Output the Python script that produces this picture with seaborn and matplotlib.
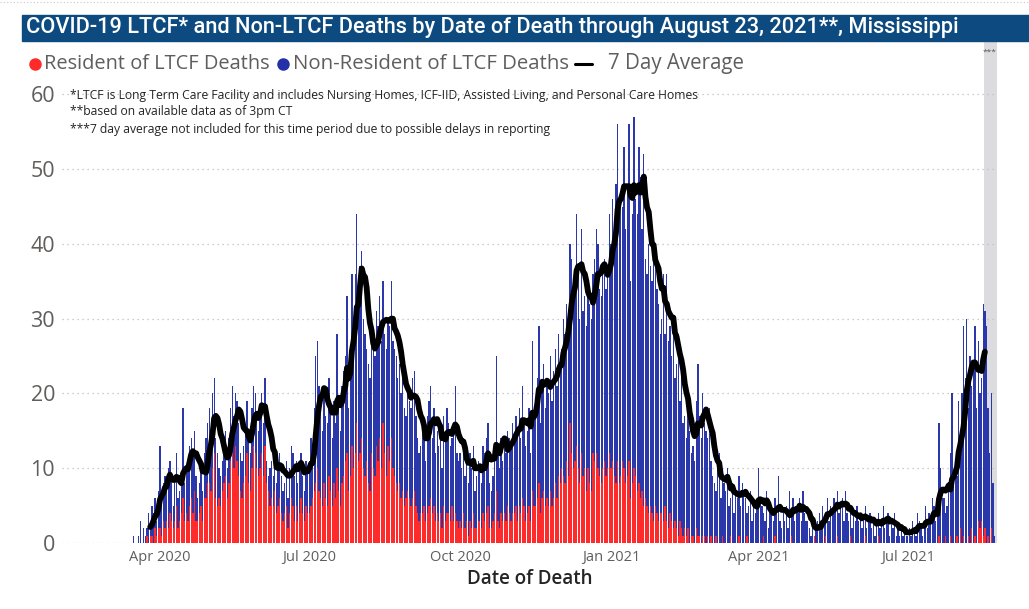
import pandas as pd
import matplotlib
matplotlib.use("Agg")
import matplotlib.pyplot as plt
import seaborn as sns
from matplotlib.lines import Line2D
from matplotlib.patches import Rectangle

# daily COVID-19 deaths by date of death, Mississippi, 2020-03-16 .. 2021-08-23
start_date = "2020-03-16"
end_date = "2021-08-23"

total_deaths = [
    1, 0, 0, 1, 3, 0, 2, 1, 2, 4, 3, 5, 4, 6, 3, 7,                                            # Mar 2020 (16-31)
    13, 6, 8, 9, 7, 10, 11, 9, 5, 8, 12, 6, 7, 9, 18, 8, 10, 11, 13, 14, 12, 15, 9, 6, 8, 10, 7, 12, 14, 16,  # Apr
    18, 15, 20, 22, 14, 12, 10, 9, 11, 13, 15, 10, 14, 18, 21, 17, 20, 19, 16, 12, 11, 13, 15, 19, 14, 12, 18, 21, 20, 17, 15,  # May
    18, 20, 16, 22, 11, 9, 10, 11, 9, 13, 8, 10, 12, 9, 7, 8, 11, 6, 10, 13, 12, 9, 11, 8, 10, 12, 9, 7, 11, 10,  # Jun
    11, 14, 13, 18, 25, 27, 21, 19, 15, 20, 17, 16, 22, 18, 14, 19, 16, 28, 19, 15, 21, 23, 25, 33, 18, 24, 36, 30, 36, 44, 35,  # Jul
    37, 39, 30, 28, 26, 24, 22, 30, 27, 25, 31, 29, 33, 27, 35, 28, 26, 30, 29, 35, 27, 26, 25, 22, 24, 20, 23, 18, 17, 21, 19,  # Aug
    18, 22, 23, 17, 14, 12, 13, 15, 16, 11, 17, 19, 21, 14, 18, 12, 15, 13, 16, 10, 17, 14, 18, 16, 13, 14, 15, 21, 12, 11,  # Sep
    12, 10, 14, 9, 11, 8, 12, 10, 13, 7, 9, 11, 10, 8, 13, 12, 14, 16, 8, 7, 9, 13, 25, 12, 10, 14, 11, 13, 12, 15, 14,  # Oct
    13, 16, 14, 17, 15, 18, 14, 21, 16, 13, 15, 18, 12, 27, 17, 19, 22, 29, 16, 21, 24, 18, 22, 20, 25, 19, 23, 26, 21, 28,  # Nov
    24, 26, 30, 28, 32, 30, 40, 38, 35, 36, 44, 36, 30, 42, 31, 33, 29, 34, 32, 30, 36, 38, 42, 40, 34, 33, 36, 38, 34, 36, 44,  # Dec
    40, 46, 42, 48, 56, 44, 46, 45, 53, 42, 48, 56, 35, 44, 57, 46, 44, 53, 49, 42, 52, 38, 36, 40, 37, 35, 41, 38, 34, 32, 28,  # Jan 2021
    30, 36, 28, 36, 27, 29, 25, 30, 22, 24, 28, 19, 23, 16, 17, 14, 18, 15, 12, 13, 11, 19, 24, 17, 14, 20, 16, 15,  # Feb
    14, 18, 11, 9, 8, 7, 10, 12, 6, 9, 8, 7, 10, 5, 6, 8, 4, 7, 6, 9, 5, 8, 7, 6, 4, 5, 7, 3, 6, 4, 5,  # Mar
    10, 6, 5, 4, 3, 7, 2, 5, 4, 3, 6, 4, 9, 3, 2, 4, 3, 5, 2, 7, 4, 6, 3, 5, 4, 6, 3, 7, 4, 3,  # Apr
    3, 2, 1, 2, 1, 2, 3, 4, 2, 5, 3, 4, 6, 3, 5, 4, 6, 5, 7, 4, 5, 6, 3, 7, 4, 3, 5, 2, 4, 3, 5,  # May
    3, 4, 2, 3, 5, 2, 3, 4, 2, 3, 1, 3, 4, 2, 3, 5, 2, 3, 4, 1, 3, 2, 4, 1, 2, 1, 2, 1, 2, 1,  # Jun
    1, 2, 1, 3, 2, 1, 4, 3, 2, 1, 3, 5, 2, 4, 3, 6, 5, 3, 4, 16, 10, 6, 6, 4, 5, 7, 12, 20, 8, 10, 9,  # Jul
    19, 14, 20, 29, 22, 30, 18, 25, 21, 24, 29, 18, 27, 20, 22, 32, 31, 29, 18, 12, 20, 8, 1,  # Aug (1-23)
]

ltcf_deaths = [
    0, 0, 0, 0, 0, 0, 0, 0, 1, 0, 1, 1, 0, 2, 1, 2,
    2, 1, 3, 2, 3, 2, 4, 3, 2, 3, 5, 2, 3, 4, 6, 3, 4, 3, 5, 6, 4, 7, 3, 3, 4, 5, 3, 6, 6, 8,
    8, 7, 10, 12, 6, 5, 6, 5, 7, 8, 9, 6, 8, 11, 12, 10, 13, 11, 9, 7, 6, 8, 9, 12, 8, 7, 10, 13, 12, 10, 9,
    10, 12, 9, 13, 8, 7, 5, 6, 5, 7, 4, 5, 6, 4, 3, 4, 5, 2, 4, 6, 5, 3, 5, 3, 4, 6, 4, 3, 5, 4,
    4, 5, 6, 7, 8, 10, 7, 6, 5, 8, 6, 5, 9, 7, 5, 8, 6, 10, 7, 5, 8, 9, 11, 12, 7, 9, 13, 10, 12, 16, 11,
    12, 14, 10, 9, 11, 8, 7, 12, 10, 9, 13, 11, 14, 10, 16, 12, 9, 13, 11, 14, 10, 9, 8, 7, 8, 6, 7, 5, 6, 7, 6,
    5, 6, 7, 5, 4, 3, 4, 4, 5, 3, 4, 5, 6, 4, 5, 3, 4, 3, 4, 2, 5, 3, 4, 4, 3, 5, 3, 4, 3, 2,
    3, 2, 4, 2, 3, 1, 3, 2, 4, 2, 2, 3, 3, 2, 4, 3, 4, 5, 2, 2, 3, 4, 7, 3, 2, 4, 3, 4, 3, 5, 4,
    3, 4, 4, 5, 3, 5, 4, 6, 5, 3, 4, 5, 3, 7, 5, 5, 6, 8, 4, 6, 7, 5, 6, 5, 7, 5, 6, 8, 6, 9,
    8, 10, 9, 8, 11, 9, 16, 12, 10, 11, 13, 10, 8, 12, 9, 10, 7, 10, 8, 7, 12, 11, 12, 10, 9, 8, 10, 11, 9, 10, 12,
    10, 11, 9, 8, 11, 8, 9, 11, 10, 8, 9, 11, 6, 8, 10, 9, 7, 8, 6, 7, 5, 6, 5, 4, 5, 4, 3, 5, 4, 3, 4,
    4, 3, 5, 3, 2, 4, 3, 2, 3, 2, 1, 3, 2, 1, 2, 1, 2, 0, 1, 1, 0, 2, 1, 1, 0, 1, 1, 0,
    1, 0, 1, 0, 0, 1, 0, 0, 0, 1, 0, 0, 0, 0, 1, 0, 0, 0, 0, 1, 0, 0, 0, 0, 1, 0, 0, 0, 0, 0, 0,
    0, 0, 0, 1, 0, 0, 0, 0, 0, 0, 1, 0, 0, 0, 0, 0, 0, 0, 0, 0, 1, 0, 0, 0, 0, 0, 0, 0, 0, 0,
    0, 0, 0, 0, 1, 0, 0, 0, 0, 0, 0, 1, 0, 0, 0, 0, 0, 0, 1, 0, 0, 0, 0, 0, 0, 0, 1, 0, 0, 0, 0,
    0, 0, 0, 0, 1, 0, 0, 0, 0, 0, 0, 0, 1, 0, 0, 0, 0, 0, 0, 0, 0, 0, 0, 0, 0, 0, 0, 0, 0, 0,
    0, 0, 0, 0, 0, 0, 0, 0, 0, 0, 0, 0, 0, 0, 0, 0, 0, 0, 0, 1, 0, 0, 0, 1, 0, 0, 1, 0, 0, 0, 1,
    0, 2, 0, 1, 0, 0, 1, 0, 2, 0, 1, 0, 3, 2, 3, 1, 2, 0, 1, 0, 2, 0, 0,
]

# 7 day average is shown only from here to here (last days greyed out)
avg_start = "2020-03-26"
avg_end = "2021-08-17"
grey_start = "2021-08-16"

tick_dates = ["2020-04-01", "2020-07-01", "2020-10-01", "2021-01-01", "2021-04-01", "2021-07-01"]
tick_labels = ["Apr 2020", "Jul 2020", "Oct 2020", "Jan 2021", "Apr 2021", "Jul 2021"]
y_ticks = [0, 10, 20, 30, 40, 50, 60]

title = "COVID-19 LTCF* and Non-LTCF Deaths by Date of Death through August 23, 2021**, Mississippi"
notes = [
    "*LTCF is Long Term Care Facility and includes Nursing Homes, ICF-IID, Assisted Living, and Personal Care Homes",
    "**based on available data as of 3pm CT",
    "***7 day average not included for this time period due to possible delays in reporting",
]

RED = "#FF2A2A"
BLUE = "#2B38AC"
GREY_TXT = "#605E5C"
DARK_TXT = "#252423"

# build data frame
day0 = pd.Timestamp("2020-04-01")
df = pd.DataFrame({"date": pd.date_range(start_date, end_date),
                   "total": total_deaths, "ltcf": ltcf_deaths})
df["day"] = (df["date"] - day0).dt.days
df["avg"] = df["total"].rolling(7).mean()
line_df = df[(df["date"] >= avg_start) & (df["date"] <= avg_end)]

sns.set_theme(style="white")
plt.rcParams["font.family"] = ["Open Sans", "DejaVu Sans"]

fig = plt.figure(figsize=(10.29, 6.09), dpi=100)
W, H = 1029, 609
ax = fig.add_axes([62 / W, (H - 543) / H, (997 - 62) / W, (543 - 42) / H])

# grey band for the last days
g0 = (pd.Timestamp(grey_start) - day0).days + 0.5
ax.axvspan(g0, 520, color="#DCDCE0", zorder=0, lw=0)

# total as blue, LTCF drawn on top of it in red (stacked look)
sns.barplot(data=df, x="day", y="total", color=BLUE, saturation=1, native_scale=True,
            width=0.8, errorbar=None, linewidth=0, ax=ax, zorder=2)
sns.barplot(data=df, x="day", y="ltcf", color=RED, saturation=1, native_scale=True,
            width=0.8, errorbar=None, linewidth=0, ax=ax, zorder=3)
sns.lineplot(data=line_df, x="day", y="avg", color="black", linewidth=4.2, ax=ax, zorder=4)

ax.set_xlim(-59.8, 510.4)
ax.set_ylim(0, 67)
ax.set_yticks(y_ticks)
ax.set_yticklabels([str(v) for v in y_ticks], fontsize=15.5, color=GREY_TXT)
ax.set_xticks([(pd.Timestamp(d) - day0).days for d in tick_dates])
ax.set_xticklabels(tick_labels, fontsize=10.5, color=GREY_TXT)
ax.tick_params(axis="both", length=0)
ax.tick_params(axis="y", pad=5)
ax.tick_params(axis="x", pad=5)
ax.set_ylabel("")
ax.set_xlabel("Date of Death", fontsize=13.5, color=DARK_TXT, fontweight="semibold")
ax.xaxis.set_label_coords(0.5005, -0.072)
ax.xaxis.label.set_va("center")
for s in ax.spines.values():
    s.set_visible(False)
ax.yaxis.grid(True, linestyle=(0, (1, 3)), color="#BDBDBD", linewidth=0.9, zorder=1)
ax.xaxis.grid(False)
ax.set_axisbelow(True)

# title bar
fig.patches.append(Rectangle((22 / W, 1 - 40.5 / H), (W - 22) / W, 25.5 / H,
                             transform=fig.transFigure, color="#0C4A7F", zorder=0))
fig.add_artist(Line2D([0, 1], [1 - 1.5 / H] * 2, color="#C8C8C8", lw=0.8,
                      linestyle=(0, (1, 2)), transform=fig.transFigure))

title_t = fig.text(26 / W, 1 - 28 / H, title, color="white", fontsize=16,
                   ha="left", va="center", fontweight="medium",
                   family=["Liberation Sans Narrow", "Roboto", "DejaVu Sans"])

# legend
leg_y = 1 - 64 / H
fig.add_artist(Line2D([35 / W], [leg_y], marker="o", color=RED, markersize=8,
                      transform=fig.transFigure))
fig.add_artist(Line2D([283 / W], [leg_y], marker="o", color="#2430A8", markersize=8,
                      transform=fig.transFigure))
fig.add_artist(Line2D([575 / W, 592 / W], [leg_y, leg_y], color="black", lw=2.2,
                      transform=fig.transFigure))
leg1 = fig.text(44 / W, leg_y, "Resident of LTCF Deaths", fontsize=14.5, color=GREY_TXT, va="center")
leg2 = fig.text(293 / W, leg_y, "Non-Resident of LTCF Deaths", fontsize=14.5, color=GREY_TXT, va="center")
leg3 = fig.text(608 / W, leg_y, "7 Day Average", fontsize=14.5, color=GREY_TXT, va="center")

# footnotes
note_ts = []
for i, (txt, yy) in enumerate(zip(notes, [95, 112, 129])):
    note_ts.append(fig.text(70 / W, 1 - yy / H, txt, fontsize=8.2, color=DARK_TXT, va="center"))

fig.text(990 / W, 1 - 52 / H, "***", fontsize=6, color="#555555", ha="center", va="center")


def fit_width(t, px):
    fig.canvas.draw()
    w = t.get_window_extent(fig.canvas.get_renderer()).width
    t.set_fontsize(t.get_fontsize() * px / w)


fit_width(title_t, 936)
fit_width(leg1, 226)
fit_width(leg2, 276)
fit_width(leg3, 136)
fit_width(note_ts[0], 630)
for t in note_ts[1:]:
    t.set_fontsize(note_ts[0].get_fontsize())

fig.savefig("out.png", dpi=100)
